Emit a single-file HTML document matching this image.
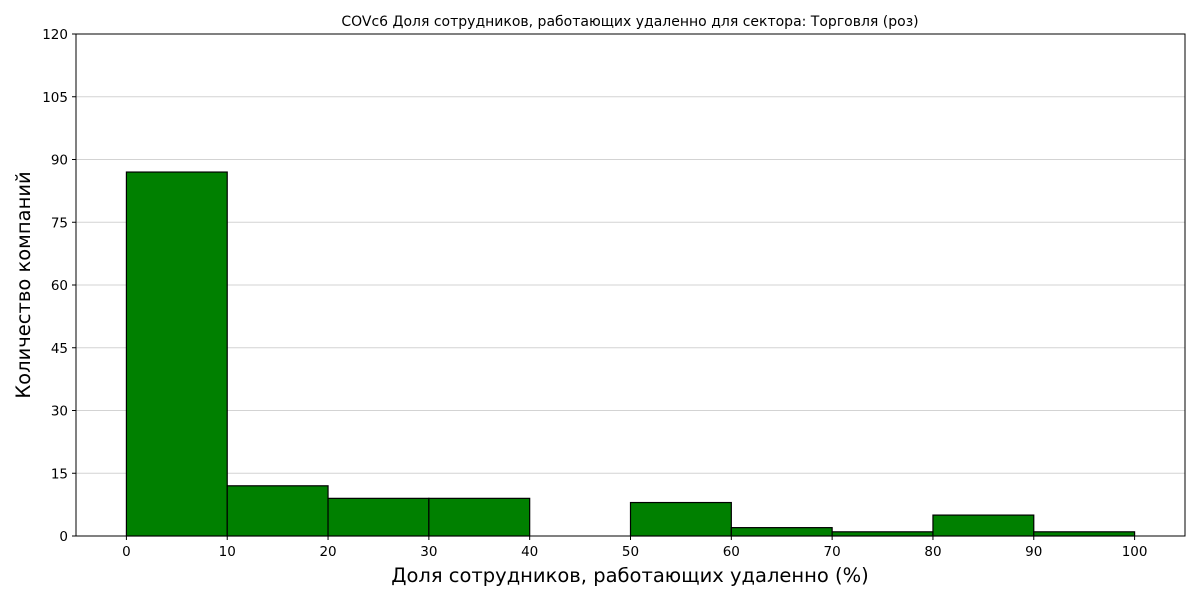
<!DOCTYPE html>
<html><head><meta charset="utf-8"><style>
html,body{margin:0;padding:0;background:#fff;}
svg{display:block;font-family:"DejaVu Sans","Liberation Sans",sans-serif;}
</style></head><body>
<svg id="chart" width="1200" height="600" viewBox="0 0 1200 600">
<text x="630" y="26" font-size="14" text-anchor="middle">COVc6 Доля сотрудников, работающих удаленно для сектора: Торговля (роз)</text>
<g id="grid"></g>
<g id="bars"></g>
<rect x="76" y="34" width="1109" height="502" fill="none" stroke="#000" stroke-width="1"/>
<g id="yticks"></g>
<g id="xticks"></g>
<text x="630" y="582" font-size="19.5" text-anchor="middle">Доля сотрудников, работающих удаленно (%)</text>
<text transform="translate(30,285) rotate(-90)" font-size="19.5" text-anchor="middle">Количество компаний</text>
</svg>
<script>
const binStarts = [0,10,20,30,40,50,60,70,80,90];
const counts = [87,12,9,9,0,8,2,1,5,1];
const binWidth = 10;
const yTicks = [0,15,30,45,60,75,90,105,120];
const xTicks = [0,10,20,30,40,50,60,70,80,90,100];

const L=76,R=1185,T=34,B=536;
const xMin=-5,xMax=105,yMin=0,yMax=120;
const sx=v=>L+(v-xMin)/(xMax-xMin)*(R-L);
const sy=v=>B-(v-yMin)/(yMax-yMin)*(B-T);
const NS='http://www.w3.org/2000/svg';
function mk(tag,attrs,parent,text){const e=document.createElementNS(NS,tag);for(const k in attrs)e.setAttribute(k,attrs[k]);if(text!==undefined)e.textContent=text;parent.appendChild(e);return e;}

const grid=document.getElementById('grid'),bars=document.getElementById('bars'),yt=document.getElementById('yticks'),xt=document.getElementById('xticks');
yTicks.forEach(v=>{
  const y=sy(v);
  const g=mk('line',{x1:L,x2:R,y1:y,y2:y,stroke:'#d3d3d3','stroke-width':1},grid);
  
  
  const t=mk('line',{x1:L-4,x2:L,y1:y,y2:y,stroke:'#000'},yt);
  
  
  const l=mk('text',{x:L-8,y:y+5,'font-size':13.5,'text-anchor':'end'},yt,String(v));
  
  
});
xTicks.forEach(v=>{
  const x=sx(v);
  const t=mk('line',{x1:x,x2:x,y1:B,y2:B+4,stroke:'#000'},xt);
  
  
  const l=mk('text',{x:x,y:B+20,'font-size':13.5,'text-anchor':'middle'},xt,String(v));
  
  
});
binStarts.forEach((s,i)=>{
  const x0=sx(s),x1=sx(s+binWidth),y=sy(counts[i]);
  const r=mk('rect',{x:x0,y:y,width:x1-x0,height:B-y,fill:'#008000',stroke:'#000','stroke-width':1.2},bars);
  
  
});
</script>
</body></html>
